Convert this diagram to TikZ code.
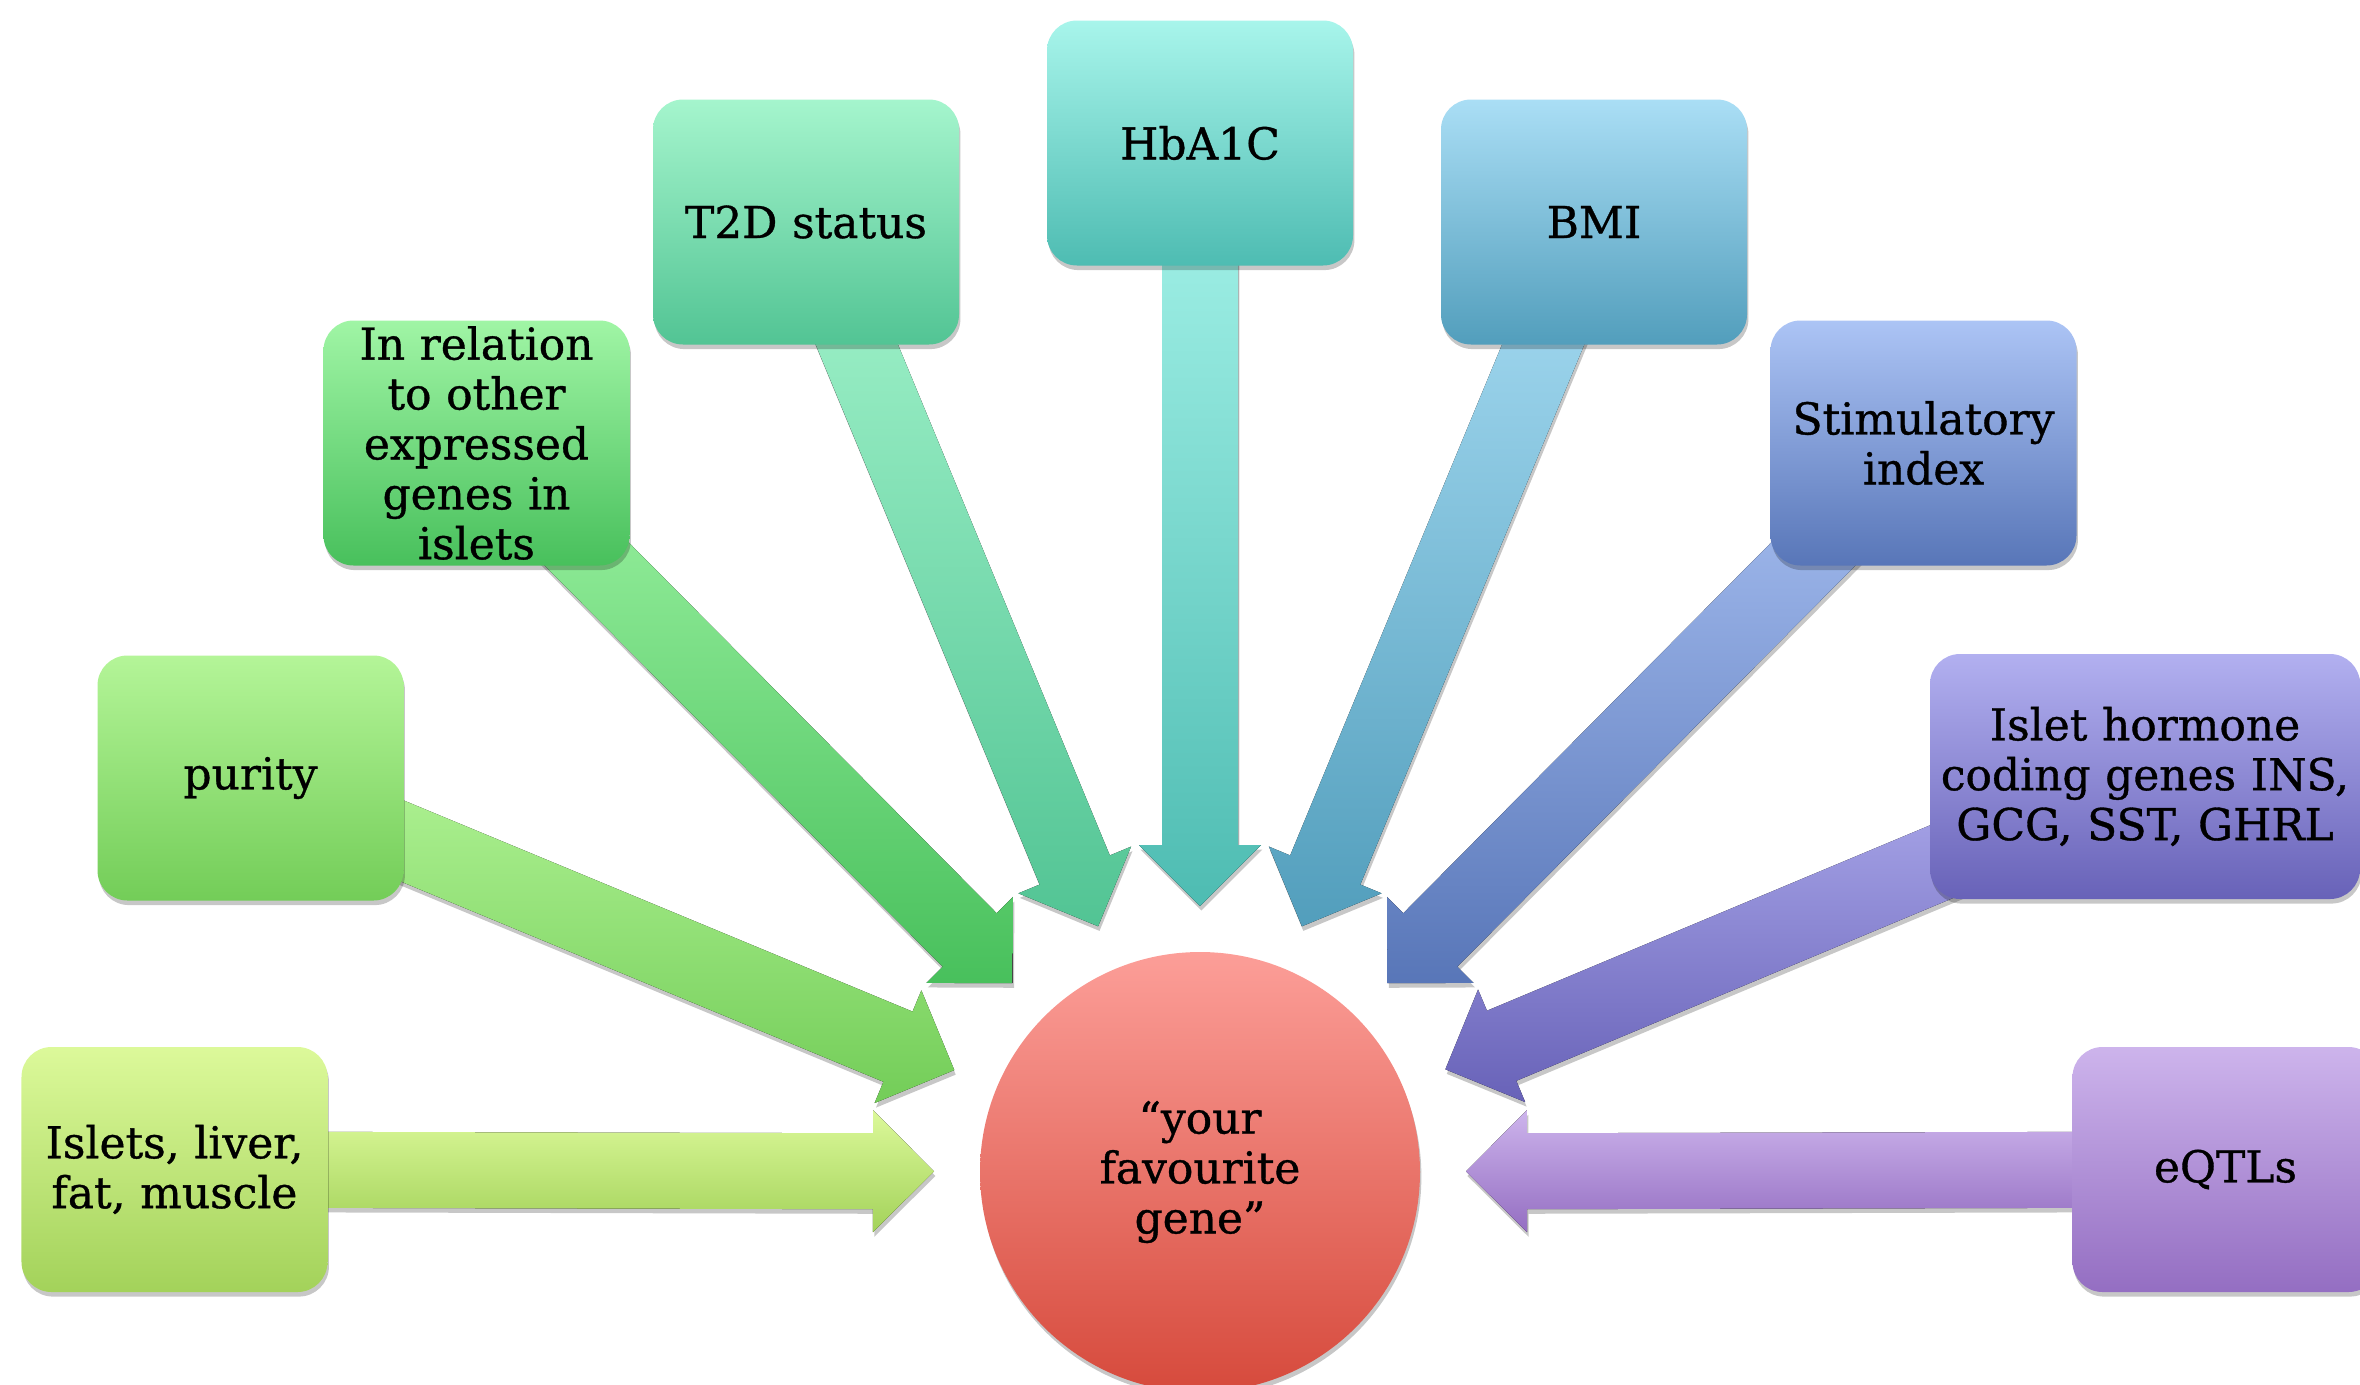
\documentclass[tikz,border=0pt]{standalone}
\usepackage{fontspec}
\setmainfont{DejaVu Serif}[FakeBold=0.8]
\usetikzlibrary{calc,shadows}
\pgfdeclarelayer{background}
\pgfsetlayers{background,main}
\definecolor{islT}{RGB}{220,249,154}
\definecolor{islB}{RGB}{163,210,90}
\definecolor{purT}{RGB}{180,245,152}
\definecolor{purB}{RGB}{115,205,88}
\definecolor{relT}{RGB}{160,245,165}
\definecolor{relB}{RGB}{72,192,92}
\definecolor{tdT}{RGB}{165,245,205}
\definecolor{tdB}{RGB}{82,196,148}
\definecolor{hbaT}{RGB}{168,245,235}
\definecolor{hbaB}{RGB}{78,188,178}
\definecolor{bmiT}{RGB}{170,222,245}
\definecolor{bmiB}{RGB}{82,158,188}
\definecolor{stiT}{RGB}{172,196,245}
\definecolor{stiB}{RGB}{88,118,184}
\definecolor{horT}{RGB}{178,176,240}
\definecolor{horB}{RGB}{104,98,184}
\definecolor{eqtT}{RGB}{205,180,236}
\definecolor{eqtB}{RGB}{148,110,194}
\definecolor{geneT}{RGB}{252,158,152}
\definecolor{geneB}{RGB}{214,74,60}
\tikzset{
  softshadow/.style={drop shadow={shadow xshift=0.4pt, shadow yshift=-1.3pt, opacity=0.22, fill=black}},
  txt/.style={font=\fontsize{12.5}{14.2}\selectfont},
  box/.style={rectangle, rounded corners=0.3cm, minimum width=3.06cm, minimum height=2.45cm,
    text width=2.9cm, align=center, inner sep=0pt, txt, softshadow},
  grad/.style 2 args={top color=#1, bottom color=#2},
}
% block arrow from a box towards the gene circle
\newcommand\myarrow[3]{%
  \coordinate (#1-tip) at ($(gene.center)!2.66cm!(#1.center)$);
  \coordinate (#1-base) at ($(#1-tip)!0.61cm!(#1.center)$);
  \fill[softshadow, grad={#2}{#3}]
    ($(#1.center)!0.38cm!90:(#1-tip)$) --
    ($(#1-base)!0.38cm!90:(#1-tip)$) --
    ($(#1-base)!0.61cm!90:(#1-tip)$) --
    (#1-tip) --
    ($(#1-base)!0.61cm!-90:(#1-tip)$) --
    ($(#1-base)!0.38cm!-90:(#1-tip)$) --
    ($(#1.center)!0.38cm!-90:(#1-tip)$) -- cycle;
}
\begin{document}
\begin{tikzpicture}
\useasboundingbox (0,0) rectangle (23.6,-13.85);
\clip (0,0) rectangle (23.6,-13.85);
\node[box, grad={islT}{islB}] (isl) at (1.745,-11.695) {Islets, liver,\\fat, muscle};
\node[box, grad={purT}{purB}] (pur) at (2.505,-7.78) {purity};
\node[box, grad={relT}{relB}] (rel) at (4.765,-4.43) {In relation\\to other\\expressed\\genes in\\islets};
\node[box, grad={tdT}{tdB}] (td) at (8.06,-2.22) {T2D status};
\node[box, grad={hbaT}{hbaB}] (hba) at (12.0,-1.43) {HbA1C};
\node[box, grad={bmiT}{bmiB}] (bmi) at (15.94,-2.22) {BMI};
\node[box, grad={stiT}{stiB}] (sti) at (19.235,-4.43) {Stimulatory\\index};
\node[box, grad={horT}{horB}, minimum width=4.3cm, text width=4.2cm] (hor) at (21.45,-7.765) {Islet hormone\\coding genes INS,\\GCG, SST, GHRL};
\node[box, grad={eqtT}{eqtB}] (eqt) at (22.255,-11.695) {eQTLs};
\node[circle, minimum size=4.4cm, inner sep=0pt, grad={geneT}{geneB}, align=center, txt, softshadow] (gene) at (12,-11.72) {“your\\favourite\\gene”};
\begin{pgfonlayer}{background}
\myarrow{isl}{islT}{islB}
\myarrow{pur}{purT}{purB}
\myarrow{rel}{relT}{relB}
\myarrow{td}{tdT}{tdB}
\myarrow{hba}{hbaT}{hbaB}
\myarrow{bmi}{bmiT}{bmiB}
\myarrow{sti}{stiT}{stiB}
\myarrow{hor}{horT}{horB}
\myarrow{eqt}{eqtT}{eqtB}
\end{pgfonlayer}
\end{tikzpicture}
\end{document}
